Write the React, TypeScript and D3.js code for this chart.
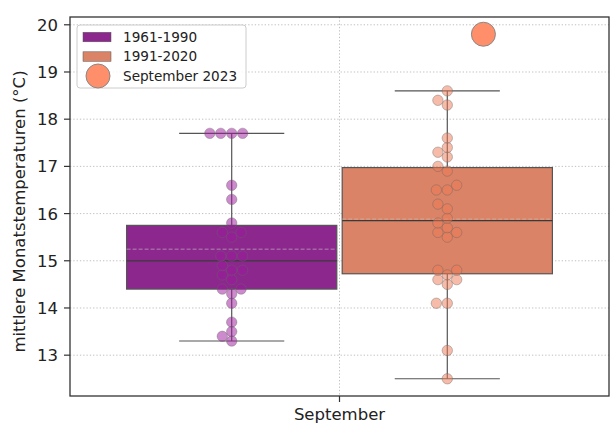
import React from "react";
import * as d3 from "d3";

const categories = ["September"];
const periods = ["1961-1990", "1991-2020"];
const values1961 = [
  17.7, 17.7, 17.7, 17.7, 16.6, 16.3, 15.8, 15.6, 15.6, 15.5, 15.1, 15.1, 15.1,
  14.9, 14.8, 14.8, 14.7, 14.6, 14.4, 14.4, 14.3, 14.1, 13.7, 13.5, 13.4, 13.3,
];
const values1991 = [
  18.6, 18.4, 18.3, 17.6, 17.4, 17.3, 17.2, 17.0, 16.9, 16.6, 16.5, 16.5, 16.2,
  16.1, 15.9, 15.8, 15.7, 15.6, 15.6, 15.5, 14.8, 14.8, 14.7, 14.6, 14.6, 14.5,
  14.1, 14.1, 13.1, 12.5,
];
const current = { label: "September 2023", value: 19.8, offset: 0.267 };
const yTicks = [13, 14, 15, 16, 17, 18, 19, 20];
const yLabel = "mittlere Monatstemperaturen (°C)";

const boxColors = ["#8c288d", "#da8366"];
const pointColors = ["#9c179e", "#ed7953"];
const currentColor = "#ff8f6b";

const W = 616;
const H = 436;
const M = { left: 70, right: 609, top: 17, bottom: 396 };
const FONT = "DejaVu Sans, sans-serif";

// seaborn-like beeswarm in pixel space (value axis = pixel y, up = larger value)
function swarm(vals: number[], y: (v: number) => number, x0: number, sep: number, spread: number) {
  const order = vals
    .map((v, i) => ({ v, i, u: -y(v) }))
    .sort((a, b) => a.u - b.u || a.i - b.i);
  const placed: { x: number; u: number; v: number }[] = [];
  for (const p of order) {
    const neigh: { x: number; u: number; v: number }[] = [];
    for (let k = placed.length - 1; k >= 0; k--) {
      if (p.u - placed[k].u < sep) neigh.push(placed[k]);
      else break;
    }
    const cands: number[] = [x0];
    let leftFirst = true;
    for (const q of neigh) {
      const dy = p.u - q.u;
      const dx = Math.sqrt(Math.max(0, sep * sep - dy * dy)) * spread;
      if (leftFirst) cands.push(q.x - dx, q.x + dx);
      else cands.push(q.x + dx, q.x - dx);
      leftFirst = !leftFirst;
    }
    const sorted = cands
      .map((c, k) => ({ c, k }))
      .sort((a, b) => {
        const da = Math.abs(a.c - x0);
        const db = Math.abs(b.c - x0);
        if (Math.abs(da - db) > 1e-6) return da - db;
        if (Math.abs(a.c - b.c) > 1e-6) return a.c - b.c; // prefer left on ties
        return a.k - b.k;
      });
    let chosen = x0;
    for (const { c } of sorted) {
      const ok = neigh.every((q) => (q.x - c) ** 2 + (q.u - p.u) ** 2 >= sep * sep - 1e-6);
      if (ok) {
        chosen = c;
        break;
      }
    }
    placed.push({ x: chosen, u: p.u, v: p.v });
  }
  return placed.map((p) => ({ x: p.x, y: -p.u, v: p.v }));
}

export default function App() {
  const allVals = [...values1961, ...values1991, current.value];
  const lo = d3.min(allVals)!;
  const hi = d3.max(allVals)!;
  const pad = (hi - lo) * 0.05;
  const y = d3.scaleLinear().domain([lo - pad, hi + pad]).range([M.bottom, M.top]);
  const x = d3.scaleLinear().domain([-0.5, 0.5]).range([M.left, M.right]);
  const catX = 0;
  const hueOffsets = [-0.2, 0.2];
  const boxW = 0.39;
  const series = [values1961, values1991];

  const stats = series.map((vals) => {
    const s = [...vals].sort(d3.ascending);
    const q1 = d3.quantileSorted(s, 0.25)!;
    const med = d3.quantileSorted(s, 0.5)!;
    const q3 = d3.quantileSorted(s, 0.75)!;
    const iqr = q3 - q1;
    const wLo = d3.min(s.filter((v) => v >= q1 - 1.5 * iqr))!;
    const wHi = d3.max(s.filter((v) => v <= q3 + 1.5 * iqr))!;
    return { q1, med, q3, wLo, wHi, mean: d3.mean(s)! };
  });

  const lineCol = "#555555";

  return (
    <svg width={W} height={H} style={{ position: "absolute", left: 0, top: 0 }} fontFamily={FONT}>
      <rect x={0} y={0} width={W} height={H} fill="white" />
      {/* grid */}
      {yTicks.map((t) => (
        <line key={t} x1={M.left} x2={M.right} y1={y(t)} y2={y(t)} stroke="#b0b0b0" strokeWidth={0.8} strokeDasharray="1.3,2" />
      ))}
      {categories.map((c, i) => (
        <line key={c} x1={x(catX + i)} x2={x(catX + i)} y1={M.top} y2={M.bottom} stroke="#b0b0b0" strokeWidth={0.8} strokeDasharray="1.3,2" />
      ))}
      {/* boxes */}
      {stats.map((s, i) => {
        const cx = x(catX + hueOffsets[i]);
        const bw = x(boxW) - x(0);
        const capW = bw / 2;
        return (
          <g key={i}>
            <line x1={cx} x2={cx} y1={y(s.q3)} y2={y(s.wHi)} stroke={lineCol} strokeWidth={1.2} />
            <line x1={cx} x2={cx} y1={y(s.q1)} y2={y(s.wLo)} stroke={lineCol} strokeWidth={1.2} />
            <line x1={cx - capW / 2} x2={cx + capW / 2} y1={y(s.wHi)} y2={y(s.wHi)} stroke={lineCol} strokeWidth={1.2} />
            <line x1={cx - capW / 2} x2={cx + capW / 2} y1={y(s.wLo)} y2={y(s.wLo)} stroke={lineCol} strokeWidth={1.2} />
            <rect x={cx - bw / 2} y={y(s.q3)} width={bw} height={y(s.q1) - y(s.q3)} fill={boxColors[i]} stroke={lineCol} strokeWidth={1.2} />
            <line x1={cx - bw / 2} x2={cx + bw / 2} y1={y(s.mean)} y2={y(s.mean)} stroke="#c8c8c8" strokeOpacity={0.6} strokeWidth={1} strokeDasharray="4,2" />
            <line x1={cx - bw / 2} x2={cx + bw / 2} y1={y(s.med)} y2={y(s.med)} stroke="#3a3a3a" strokeWidth={1.2} />
          </g>
        );
      })}
      {/* swarms */}
      {series.map((vals, i) => {
        const cx = x(catX + hueOffsets[i]);
        const pts = swarm(vals, y, cx, 9.2, 1.19);
        return (
          <g key={i}>
            {pts.map((p, k) => (
              <circle key={k} cx={p.x} cy={p.y} r={5.2} fill={pointColors[i]} fillOpacity={0.5} stroke="#666" strokeOpacity={0.5} strokeWidth={0.8} />
            ))}
          </g>
        );
      })}
      {/* current */}
      <circle cx={x(catX + current.offset)} cy={y(current.value)} r={12} fill={currentColor} stroke="#888" strokeWidth={1} />
      {/* axes frame */}
      <rect x={M.left} y={M.top} width={M.right - M.left} height={M.bottom - M.top} fill="none" stroke="#333" strokeWidth={1.3} />
      {/* y ticks */}
      {yTicks.map((t) => (
        <g key={t}>
          <line x1={M.left - 6} x2={M.left} y1={y(t)} y2={y(t)} stroke="#333" strokeWidth={1.2} />
          <text x={M.left - 12} y={y(t)} dy="0.36em" textAnchor="end" fontSize={16.5} fill="#222">{t}</text>
        </g>
      ))}
      {/* x ticks */}
      {categories.map((c, i) => (
        <g key={c}>
          <line x1={x(catX + i)} x2={x(catX + i)} y1={M.bottom} y2={M.bottom + 6} stroke="#333" strokeWidth={1.2} />
          <text x={x(catX + i)} y={M.bottom + 24} textAnchor="middle" fontSize={16.5} fill="#222">{c}</text>
        </g>
      ))}
      <text transform={`translate(25, ${(M.top + M.bottom) / 2 + 5}) rotate(-90)`} textAnchor="middle" fontSize={16.5} fill="#222">{yLabel}</text>
      {/* legend */}
      <g>
        <rect x={77} y={25} width={169} height={63} rx={3} fill="white" fillOpacity={0.8} stroke="#cccccc" strokeWidth={1} />
        {periods.map((p, i) => (
          <g key={p} transform={`translate(0, ${37 + i * 19.5})`}>
            <rect x={83} y={-4.7} width={28} height={9.5} fill={boxColors[i]} stroke={lineCol} strokeWidth={0.5} />
            <text x={123} y={0} dy="0.36em" fontSize={13.6} fill="#222">{p}</text>
          </g>
        ))}
        <circle cx={98} cy={76} r={12} fill={currentColor} stroke="#888" strokeWidth={1} />
        <text x={123} y={76} dy="0.36em" fontSize={13.6} fill="#222">{current.label}</text>
      </g>
    </svg>
  );
}
